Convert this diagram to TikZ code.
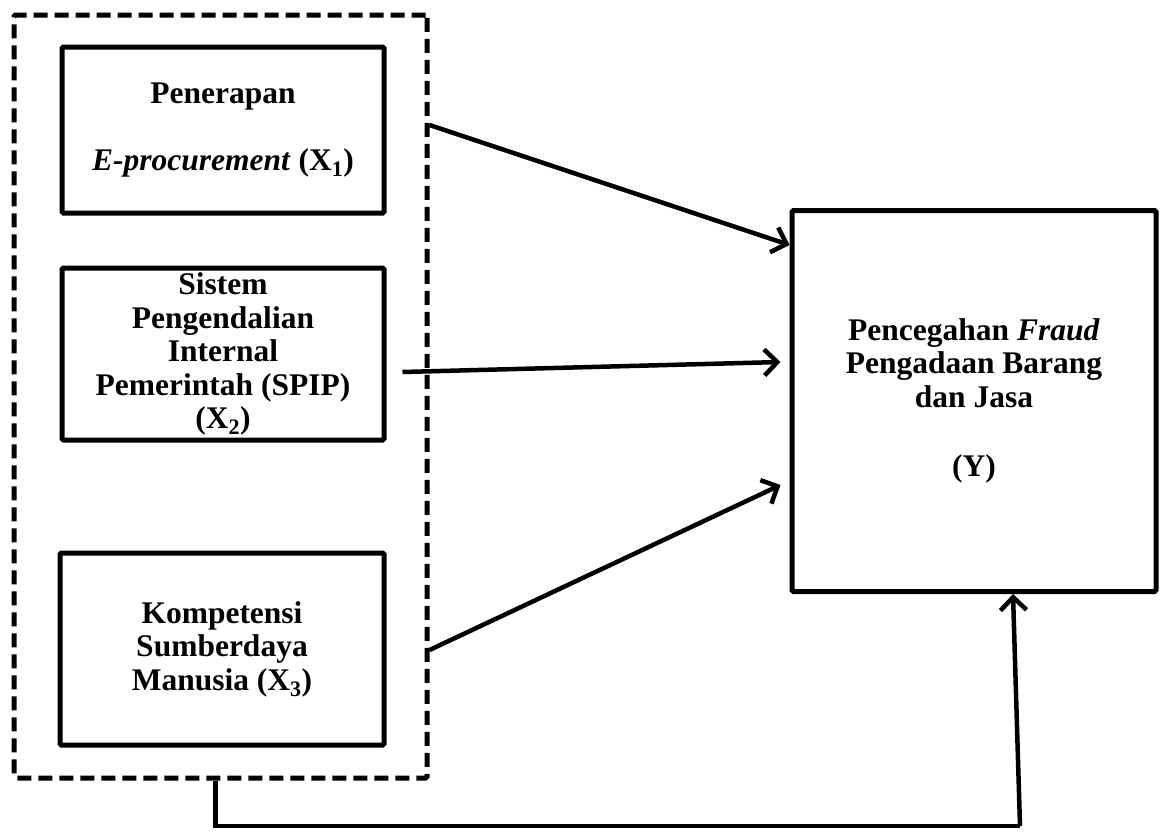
\documentclass[tikz,border=0pt]{standalone}
\usepackage{fontspec}
\setmainfont{Liberation Serif}
\usetikzlibrary{
    arrows.meta,
    positioning,
    calc
}

\begin{document}
\begin{tikzpicture}[
        x=1pt, y=-1pt,
        var/.style={draw, line width=5pt, rounded corners=1.5pt, align=center, inner sep=0pt,
            font=\fontsize{31.5}{33.5}\selectfont\bfseries},
        group/.style={draw, line width=5pt, dash pattern=on 14pt off 7pt, rounded corners=1.5pt, inner sep=0pt},
        arrow/.style={-{Straight Barb[length=13pt,width=26pt]}, line width=4.5pt}
    ]
        \useasboundingbox (0,0) rectangle (1162,831);

        \node[group, minimum width=413pt, minimum height=763pt] (grp) at (220.5,396.5) {};

        \node[var, minimum width=322pt, minimum height=166pt] (x1) at (223,130)
            {Penerapan\\[34pt]\textit{E-procurement} (X\textsubscript{1})};
        \node[var, minimum width=322pt, minimum height=172pt] (x2) at (223,354)
            {Sistem\\Pengendalian\\Internal\\Pemerintah (SPIP)\\(X\textsubscript{2})};
        \node[var, minimum width=324pt, minimum height=192pt] (x3) at (222,649)
            {Kompetensi\\Sumberdaya\\Manusia (X\textsubscript{3})};
        \node[var, minimum width=364pt, minimum height=381pt] (y) at (974,401)
            {Pencegahan \textit{Fraud}\\Pengadaan Barang\\dan Jasa\\[36pt](Y)};

        \coordinate (bend) at (1020,826);

        \draw[arrow] ([yshift=5pt]grp.east |- x1) -- ([yshift=156pt]y.west);
        \draw[arrow] ([xshift=16pt,yshift=-18pt]x2.east) -- ([xshift=-9pt,yshift=39pt]y.west);
        \draw[arrow] ([yshift=-1pt]grp.east |- x3) -- ([xshift=-9pt,yshift=-84pt]y.west);
        \draw[line width=4.5pt] ([xshift=-5pt]grp.south) |- (bend);
        \draw[arrow] (bend) -- ([xshift=39pt]y.south);
    \end{tikzpicture}
\end{document}
